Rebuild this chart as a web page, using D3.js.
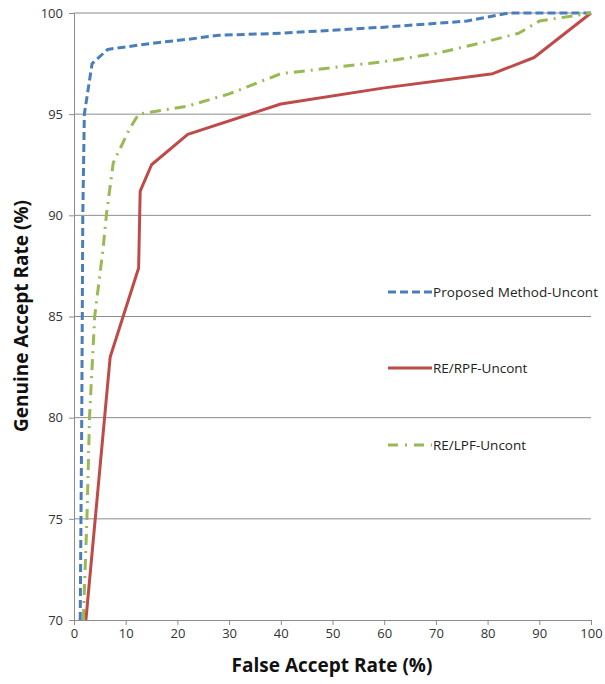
<!DOCTYPE html>
<html><head><meta charset="utf-8">
<script src="https://cdn.jsdelivr.net/npm/d3@7"></script>
<style>body{margin:0;background:#fff}svg{display:block}</style>
</head><body>
<svg id="c" width="605" height="684"></svg>
<script>
const xTicks = [0,10,20,30,40,50,60,70,80,90,100];
const yTicks = [70,75,80,85,90,95,100];
const seriesNames = ["Proposed Method-Uncont","RE/RPF-Uncont","RE/LPF-Uncont"];
const proposedX = [1.2,1.5,1.7,2.0,3.5,6.5,15,22,28,40,60,76,84,100];
const proposedY = [70,80,90,95,97.5,98.2,98.5,98.7,98.9,99.0,99.3,99.6,100,100];
const rpfX = [2.3,7,12.5,12.8,15,22,40,60,81,89,100];
const rpfY = [70,83,87.4,91.2,92.5,94,95.5,96.3,97,97.8,100];
const lpfX = [1.8,2.5,3,4,5.6,6.3,7.6,10.8,12.5,22,30,40,50,60,70,80,86,90,100];
const lpfY = [70,75,80,85,88.3,90.1,92.6,94.3,95,95.4,96,97,97.3,97.6,98,98.6,99,99.6,100];

const svg = d3.select("#c");
const font = "'Open Sans', 'Liberation Sans', sans-serif";
const x = d3.scaleLinear().domain([0,100]).range([74,591]);
const y = d3.scaleLinear().domain([70,100]).range([620,13]);

svg.append("g").selectAll("line").data(yTicks.filter(d=>d>70)).join("line")
  .attr("x1",x(0)).attr("x2",x(100)).attr("y1",d=>y(d)).attr("y2",d=>y(d))
  .attr("stroke","#8c8c8c").attr("stroke-width",1);

const gx = svg.append("g").attr("transform",`translate(0,${y(70)})`)
  .call(d3.axisBottom(x).tickValues(xTicks).tickSize(5).tickPadding(4).tickFormat(d3.format("d")));
const gy = svg.append("g").attr("transform",`translate(${x(0)},0)`)
  .call(d3.axisLeft(y).tickValues(yTicks).tickSize(5).tickPadding(6).tickFormat(d3.format("d")));
[gx,gy].forEach(g=>{
  g.select(".domain").attr("stroke","#8c8c8c");
  g.selectAll(".tick line").attr("stroke","#8c8c8c");
  g.selectAll("text").attr("font-family",font).attr("font-size",13).attr("fill","#333");
});

const series = [
  {name:seriesNames[0], xs:proposedX, ys:proposedY, color:"#4a7ebb", dash:"8,4"},
  {name:seriesNames[1], xs:rpfX, ys:rpfY, color:"#be4b48", dash:null},
  {name:seriesNames[2], xs:lpfX, ys:lpfY, color:"#98b954", dash:"11,6,2,6"}
];
const line = d3.line().x(d=>x(d[0])).y(d=>y(d[1])).curve(d3.curveMonotoneX);
const lineStraight = d3.line().x(d=>x(d[0])).y(d=>y(d[1]));
series.forEach((s,i)=>{
  const pts = s.xs.map((v,j)=>[v,s.ys[j]]);
  svg.append("path").datum(pts).attr("d",lineStraight).attr("fill","none")
    .attr("stroke",s.color).attr("stroke-width",3).attr("stroke-linejoin","round")
    .attr("stroke-dasharray",s.dash);
});

const legY = [292,368,445];
series.forEach((s,i)=>{
  const g = svg.append("g").attr("transform",`translate(388,${legY[i]})`);
  g.append("line").attr("x1",0).attr("x2",44).attr("y1",0).attr("y2",0)
    .attr("stroke",s.color).attr("stroke-width",3)
    .attr("stroke-dasharray",i==0?"8,4":(i==2?"10,7,2,7":null));
  g.append("text").attr("x",45).attr("y",5).text(s.name)
    .attr("font-family",font).attr("font-size",13.5).attr("fill","#222")
    .attr("textLength",i==0?165:null);
});

svg.append("text").attr("x",332).attr("y",672).attr("text-anchor","middle")
  .attr("font-family",font).attr("font-weight","bold").attr("font-size",19).attr("fill","#111")
  .text("False Accept Rate (%)");
svg.append("text").attr("transform","translate(28,316) rotate(-90)").attr("text-anchor","middle")
  .attr("font-family",font).attr("font-weight","bold").attr("font-size",19).attr("fill","#111")
  .text("Genuine Accept Rate (%)");
</script>
</body></html>
